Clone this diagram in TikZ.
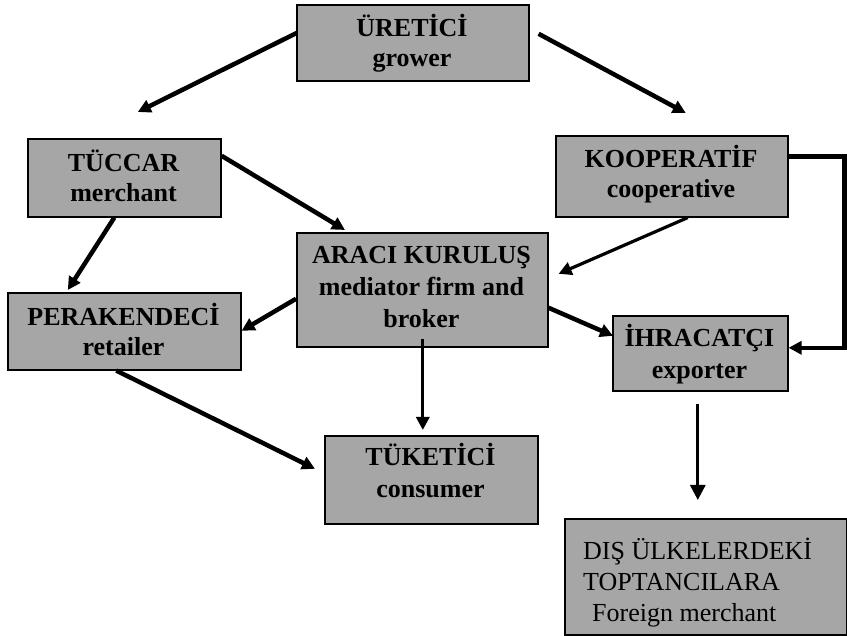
\documentclass[tikz,border=0pt]{standalone}
\usepackage{fontspec}
\setmainfont{Liberation Serif}
\usetikzlibrary{arrows.meta,calc}
\definecolor{boxgray}{RGB}{166,166,166}
\tikzset{
  box/.style={draw=black, line width=1.6pt, fill=boxgray, inner sep=0pt, anchor=north west},
  lbl/.style={anchor=base, inner sep=0pt, font=\fontsize{26}{31}\selectfont\bfseries},
  plainlbl/.style={anchor=base west, inner sep=0pt, font=\fontsize{26}{31}\selectfont},
  flow/.style={line width=4.5pt, -{Triangle[length=13pt,width=13pt]}},
  thinflow/.style={line width=3.2pt, -{Triangle[length=13pt,width=13pt]}},
}
\begin{document}
\begin{tikzpicture}[x=1pt,y=-1pt]
\useasboundingbox (0,0) rectangle (847,636);
% boxes
\node[box, minimum width=232, minimum height=76] (U) at (296,4) {};
\node[box, minimum width=193, minimum height=78] (T) at (27,138) {};
\node[box, minimum width=232, minimum height=81] (K) at (555,135) {};
\node[box, minimum width=233, minimum height=77] (P) at (7,292) {};
\node[box, minimum width=251, minimum height=114] (A) at (296,232) {};
\node[box, minimum width=175, minimum height=75] (H) at (612,315) {};
\node[box, minimum width=282, minimum height=116] (D) at (564,518) {};
\node[box, minimum width=213, minimum height=88] (C) at (324,435) {};
% texts
\node[lbl] (U1) at (412,37) {ÜRETİCİ};
\node[lbl] (U2) at (412,67) {grower};
\node[lbl] (T1) at (123.5,172) {TÜCCAR};
\node[lbl] (T2) at (123.5,202) {merchant};
\node[lbl] (K1) at (671,168) {KOOPERATİF};
\node[lbl] (K2) at (671,198) {cooperative};
\node[lbl] (P1) at (123.5,326) {PERAKENDECİ};
\node[lbl] (P2) at (123.5,356) {retailer};
\node[lbl] (A1) at (421.5,264) {ARACI KURULUŞ};
\node[lbl] (A2) at (421.5,296) {mediator firm and};
\node[lbl] (A3) at (421.5,328) {broker};
\node[lbl] (H1) at (699.5,347) {İHRACATÇI};
\node[lbl] (H2) at (699.5,379) {exporter};
\node[lbl] (C1) at (430.5,466) {TÜKETİCİ};
\node[lbl] (C2) at (430.5,498) {consumer};
\node[plainlbl] (D1) at (583,559) {DIŞ ÜLKELERDEKİ};
\node[plainlbl] (D2) at (583,590) {TOPTANCILARA};
\node[plainlbl] (D3) at (592,621) {Foreign merchant};
% connectors
\draw[flow] ($(U.west)+(1,-10)$) -- ($(T.north)+(13.5,-26)$);
\draw[flow] ($(U.east)+(9,-9)$) -- ($(K.north)+(14,-22)$);
\draw[flow] ($(T.east)+(0,-22)$) -- ($(A.north west)+(49,-2)$);
\draw[thinflow] ($(K.south)+(16,0)$) -- ($(A.east)+(10,-16)$);
\draw[flow] ($(T.south)+(-10,0)$) -- ($(P.north)+(-56.5,-2)$);
\draw[flow] ($(A.west)+(0,9)$) -- ($(P.east)+(0,-0.5)$);
\draw[flow] ($(P.south)+(-8,0)$) -- ($(C.west)+(-9,-11)$);
\draw[thinflow] ($(A.south)+(0.5,-9)$) -- ($(C.north)+(-8.5,-5)$);
\draw[flow] ($(A.east)+(0,18)$) -- ($(H.west)+(1,-17.5)$);
\draw[flow] ($(K.east)+(0,-20)$) -- ++(56,0) |- ($(H.east)+(0,-5.5)$);
\draw[line width=3pt, -{Triangle[length=15pt,width=15pt]}] ($(H.south)+(-2.5,12)$) -- ($(D.north)+(-8,-18)$);
\end{tikzpicture}
\end{document}
